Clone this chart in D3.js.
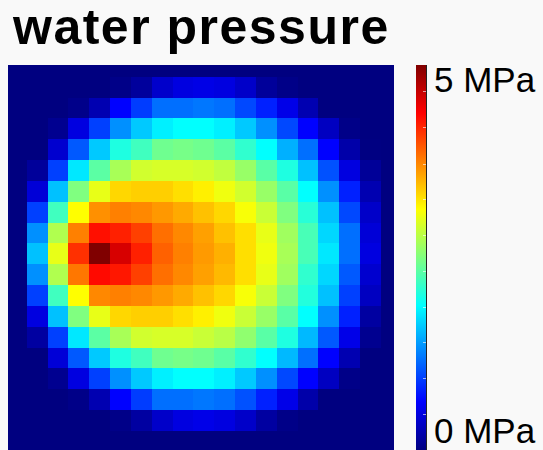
<!DOCTYPE html>
<html>
<head>
<meta charset="utf-8">
<script src="https://cdn.jsdelivr.net/npm/d3@7"></script>
<style>
  html, body { margin: 0; padding: 0; background: #f9f9f9; }
  svg { display: block; }
</style>
</head>
<body>
<svg id="chart" width="543" height="450"></svg>
<script>
// Water pressure field (MPa) on a 19 x 19 grid, row by row from the top.
const rowIds = d3.range(19);
const colIds = d3.range(19);
const pressure = [
  [0,0,0,0,0,0,0,0,0,0,0,0,0,0,0,0,0,0,0],
  [0,0,0,0,0,0.04,0.14,0.37,0.47,0.50,0.47,0.36,0.13,0.04,0,0,0,0,0],
  [0,0,0,0.05,0.24,0.63,0.92,1.17,1.17,1.21,1.17,0.98,0.78,0.51,0.24,0,0,0,0],
  [0,0,0.08,0.47,0.94,1.33,1.61,1.80,1.88,1.88,1.80,1.61,1.33,0.98,0.63,0.32,0.04,0,0],
  [0,0,0.39,1.06,1.61,2.02,2.19,2.42,2.46,2.42,2.32,2.11,1.88,1.49,1.17,0.63,0.20,0.01,0],
  [0,0.13,0.94,1.76,2.32,2.70,2.90,2.93,2.93,2.90,2.82,2.62,2.31,2.02,1.57,1.02,0.47,0.12,0],
  [0,0.43,1.57,2.50,3.01,3.32,3.36,3.36,3.28,3.20,3.05,2.90,2.62,2.31,1.88,1.33,0.78,0.24,0],
  [0,0.94,2.19,3.13,3.67,3.75,3.71,3.63,3.54,3.43,3.32,3.09,2.86,2.50,2.07,1.57,0.98,0.36,0],
  [0,1.33,2.74,3.75,4.30,4.22,4.06,3.83,3.71,3.59,3.43,3.28,3.01,2.66,2.23,1.68,1.17,0.43,0],
  [0,1.57,3.01,4.14,5.00,4.57,4.22,3.90,3.75,3.62,3.51,3.28,3.05,2.70,2.23,1.76,1.17,0.47,0],
  [0,1.33,2.74,3.79,4.33,4.26,4.06,3.83,3.71,3.59,3.47,3.28,3.01,2.66,2.11,1.68,1.06,0.39,0],
  [0,0.94,2.19,3.13,3.71,3.75,3.71,3.63,3.54,3.43,3.32,3.09,2.86,2.50,2.04,1.57,0.94,0.32,0],
  [0,0.47,1.57,2.50,3.01,3.32,3.36,3.36,3.28,3.20,3.05,2.86,2.62,2.31,1.88,1.33,0.78,0.16,0],
  [0,0.16,0.94,1.76,2.32,2.70,2.90,2.93,2.93,2.86,2.78,2.58,2.31,2.02,1.53,1.06,0.51,0.08,0],
  [0,0,0.43,1.06,1.61,2.02,2.19,2.42,2.46,2.42,2.31,2.11,1.88,1.53,1.17,0.63,0.24,0,0],
  [0,0,0.08,0.47,0.94,1.33,1.61,1.80,1.88,1.88,1.80,1.61,1.33,0.98,0.63,0.32,0.04,0,0],
  [0,0,0,0.04,0.24,0.63,0.92,1.17,1.17,1.21,1.17,1.02,0.78,0.51,0.20,0,0,0,0],
  [0,0,0,0,0,0.04,0.16,0.36,0.47,0.51,0.47,0.36,0.16,0.04,0,0,0,0,0],
  [0,0,0,0,0,0,0,0,0,0,0,0,0,0,0,0,0,0,0]
];
// Colour bar range, end labels and minor tick marks (MPa)
const pressureRange = [0, 5];
const rangeLabels = ["0 MPa", "5 MPa"];
const barTicks = [0.47, 0.93, 1.40, 1.86, 2.33, 2.79, 3.26, 3.72, 4.19, 4.66];
const titleText = "water pressure";

// Jet colour map
const jetValues = [0, 0.625, 1.875, 3.125, 4.375, 5];
const jetColors = ["#000080", "#0000ff", "#00ffff", "#ffff00", "#ff0000", "#800000"];
const color = d3.scaleLinear().domain(jetValues).range(jetColors).clamp(true);

const svg = d3.select("#chart");

// Plot rectangle and grid geometry
const plot = { left: 8, top: 65, right: 394, bottom: 450 };
const cell = 20.84;
const x = d3.scaleBand().domain(colIds).range([5.86, 5.86 + 19 * cell]);
const y = d3.scaleBand().domain(rowIds).range([55.86, 55.86 + 19 * cell]);

svg.append("defs").append("clipPath").attr("id", "plotClip")
  .append("rect")
  .attr("x", plot.left).attr("y", plot.top)
  .attr("width", plot.right - plot.left).attr("height", plot.bottom - plot.top);

const cells = [];
rowIds.forEach(r => colIds.forEach(c => cells.push({ r, c, v: pressure[r][c] })));

svg.append("g").attr("clip-path", "url(#plotClip)")
  .selectAll("rect").data(cells).join("rect")
  .attr("x", d => x(d.c))
  .attr("y", d => y(d.r))
  .attr("width", x.bandwidth() + 0.5)
  .attr("height", y.bandwidth() + 0.5)
  .attr("fill", d => color(d.v))
  .attr("shape-rendering", "crispEdges");

// Title
svg.append("text")
  .attr("x", 13).attr("y", 44)
  .attr("font-family", "'Liberation Sans', Arial, sans-serif")
  .attr("font-weight", "bold")
  .attr("font-size", 50)
  .attr("letter-spacing", 1.5)
  .attr("fill", "#000")
  .text(titleText);

// Colour bar
const bar = { x: 416, width: 10, top: 65, bottom: 450 };
const barScale = d3.scaleLinear().domain(pressureRange).range([bar.bottom, bar.top]);

const grad = svg.select("defs").append("linearGradient")
  .attr("id", "jetGrad").attr("x1", 0).attr("y1", 1).attr("x2", 0).attr("y2", 0);
grad.selectAll("stop").data(jetValues).join("stop")
  .attr("offset", d => d / pressureRange[1])
  .attr("stop-color", (d, i) => jetColors[i]);

svg.append("rect")
  .attr("x", bar.x).attr("y", bar.top)
  .attr("width", bar.width).attr("height", bar.bottom - bar.top)
  .attr("fill", "url(#jetGrad)");

svg.append("line")
  .attr("x1", bar.x + bar.width + 0.5).attr("x2", bar.x + bar.width + 0.5)
  .attr("y1", bar.top).attr("y2", bar.bottom)
  .attr("stroke", "#222").attr("stroke-width", 1);

svg.append("g").selectAll("line").data(barTicks).join("line")
  .attr("x1", bar.x + bar.width - 3).attr("x2", bar.x + bar.width)
  .attr("y1", d => Math.round(barScale(d)) + 0.5)
  .attr("y2", d => Math.round(barScale(d)) + 0.5)
  .attr("stroke", "#fff").attr("stroke-opacity", 0.6).attr("stroke-width", 1);

// End labels
svg.append("g").selectAll("text").data(pressureRange).join("text")
  .attr("x", 434)
  .attr("y", (d, i) => i === 0 ? 443 : 92)
  .attr("font-family", "'Liberation Sans', Arial, sans-serif")
  .attr("font-size", 35)
  .attr("fill", "#000")
  .text((d, i) => rangeLabels[i]);
</script>
</body>
</html>
